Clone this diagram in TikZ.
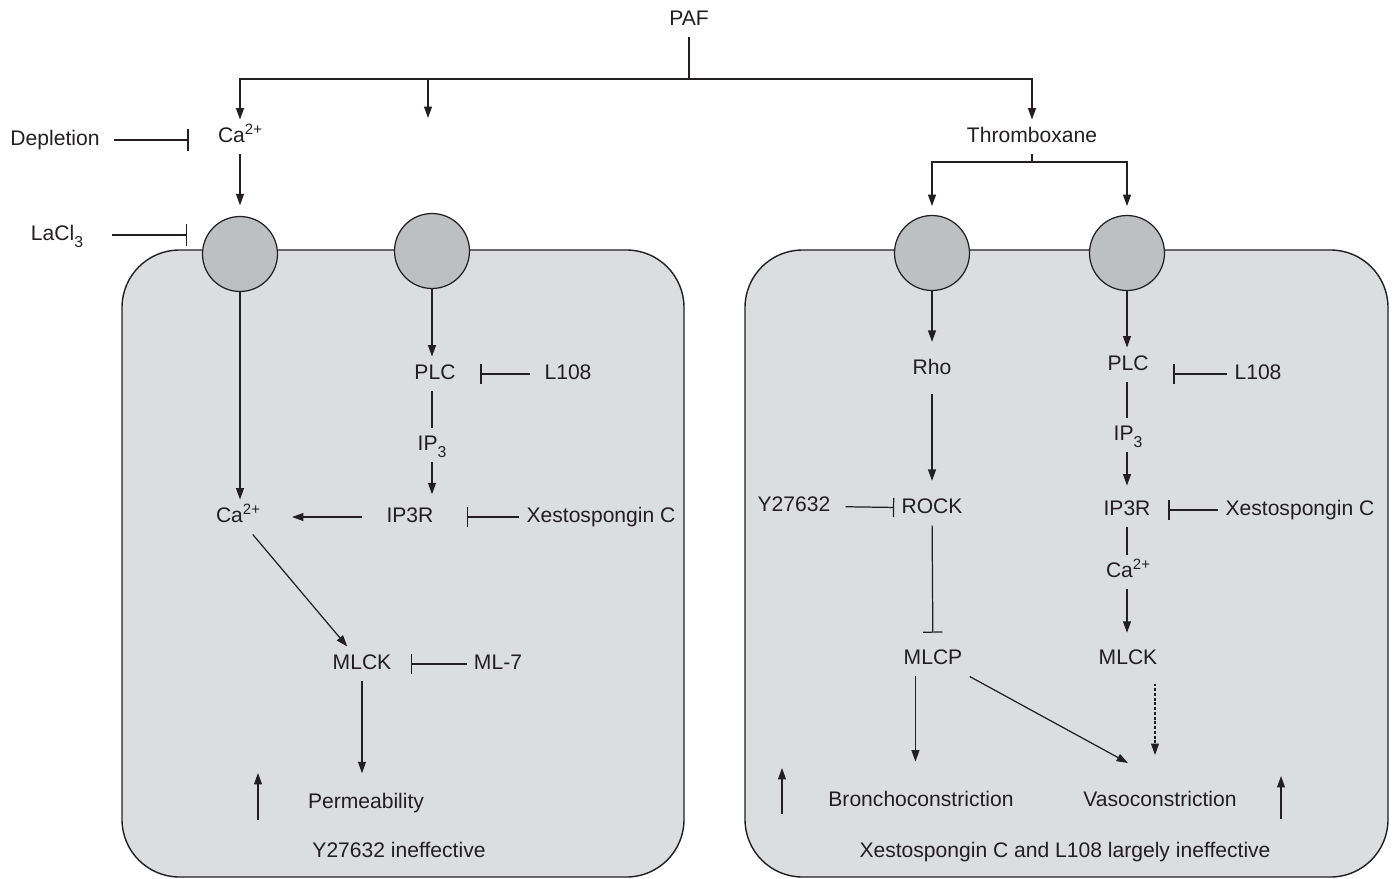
\documentclass[tikz,border=0pt]{standalone}
\usepackage{fontspec}
\setmainfont{Liberation Sans}
\usetikzlibrary{arrows.meta, positioning}
\definecolor{ink}{RGB}{35,31,32}
\definecolor{cellgray}{RGB}{220,221,223}
\definecolor{rcptgray}{RGB}{190,191,193}
\newcommand{\upidx}[1]{\raisebox{4.6pt}{\fontsize{8.5}{9}\selectfont #1}}
\newcommand{\dnidx}[1]{\raisebox{-4pt}{\fontsize{9}{9}\selectfont #1}}

\begin{document}
\begin{tikzpicture}[x=0.02cm, y=-0.02cm,
  lbl/.style={font=\fontsize{12}{14}\selectfont, text=ink, text height=9pt, text depth=2.5pt, inner sep=4pt},
  cell/.style={draw=ink, fill=cellgray, line width=0.8pt, rounded corners=1.15cm},
  rcpt/.style={circle, draw=ink, fill=rcptgray, line width=0.7pt, minimum size=1.5cm, inner sep=0pt},
  link/.style={draw=ink, line width=0.7pt},
  arr/.style={-{Triangle[length=6.5pt, width=4.5pt]}, draw=ink, line width=0.7pt},
  inh/.style={-{Bar[width=11pt]}, draw=ink, line width=0.7pt},
  dotarr/.style={arr, dash pattern=on 1.6pt off 1.1pt},
]
\useasboundingbox (0,0) rectangle (1393,879);

% === Cells ===
\draw[cell] (122,250) rectangle (684,877);
\draw[cell] (745,250) rectangle (1388,877);

% === Top: PAF and its three branches ===
\node[lbl] (paf) at (689,20) {PAF};
\coordinate (split) at (689,79);
\coordinate (mid) at (428,118);
\node[lbl] (ca0) at (240,137) {Ca\upidx{2+}};
\node[lbl] (thrombo) at (1032,137) {Thromboxane};
\draw[link] (paf) -- (split);
\draw[arr] (split) -| (ca0.north);
\draw[arr] (split) -| (mid);
\draw[arr] (split) -| (thrombo.north);

% === Left cell: Ca2+ entry and PLC route ===
\node[rcpt] (c1) at (240,254) {};
\node[rcpt] (c2) at (432,251) {};

\node[lbl] (depl) at (55,140) {Depletion};
\node[lbl] (lacl) at (57,235) {LaCl\dnidx{3}};
\draw[inh, -{Bar[width=13pt]}, shorten <=4pt, shorten >=12.5pt] (depl) -- (depl -| ca0.west);
\draw[inh, -{Bar[width=13pt]}, shorten <=12pt, shorten >=8.5pt] (lacl) -- (lacl -| c1.west);
\draw[arr, shorten >=6pt] (ca0) -- (c1);

\node[lbl] (ca1) at (238,517) {Ca\upidx{2+}};
\draw[arr] (c1) -- (c1 |- ca1.north);

\node[lbl] (plc1) at (435,374) {PLC};
\node[lbl] (l108a) at (568,374) {L108};
\node[lbl] (ip3a) at (432,445) {IP\dnidx{3}};
\node[lbl] (ip3r1) at (410,517) {IP3R};
\node[lbl] (xesto1) at (601,517) {Xestospongin C};
\draw[arr] (c2) -- (c2 |- plc1.north);
\draw[inh, shorten <=4pt, shorten >=10pt] (l108a) -- (plc1);
\draw[link] (c2 |- plc1.south) -- (c2 |- ip3a.north);
\draw[arr, shorten >=3pt] (c2 |- ip3a.south) -- (c2 |- ip3r1.north);
\draw[inh, shorten >=15pt] (xesto1) -- (ip3r1);
\draw[arr, shorten <=9.5pt, shorten >=14pt] (ip3r1) -- (ca1);

\node[lbl] (mlck1) at (362,664) {MLCK};
\node[lbl] (ml7) at (498,664) {ML-7};
\node[lbl] (perm) at (366,803) {Permeability};
\draw[arr] (ca1) -- (mlck1);
\draw[inh, shorten >=7pt] (ml7) -- (mlck1);
\draw[arr, shorten >=7pt] (mlck1) -- (mlck1 |- perm.north);
\draw[arr] (258,820) -- (258,773);

\node[lbl] (ineff1) at (399,852) {Y27632 ineffective};

% === Right cell: Thromboxane receptors ===
\node[rcpt] (c3) at (932,253) {};
\node[rcpt] (c4) at (1127,253) {};
\coordinate (tsplit) at (1032,162);
\draw[link] (thrombo) -- (tsplit);
\draw[arr, shorten >=5pt] (tsplit) -| (c3.north);
\draw[arr, shorten >=5pt] (tsplit) -| (c4.north);

% Rho / ROCK route
\node[lbl] (rho) at (932,369) {Rho};
\node[lbl] (rock) at (932,508) {ROCK};
\node[lbl] (y27) at (794,506) {Y27632};
\node[lbl] (mlcp) at (933,659) {MLCP};
\draw[arr, shorten >=5.5pt] (c3) -- (rho);
\draw[arr, shorten <=4pt, shorten >=5.5pt] (rho) -- (rock);
\draw[inh, shorten <=4.5pt] (y27) -- (rock);
\draw[inh, shorten >=5pt] (rock) -- (mlcp);

% PLC route
\node[lbl] (plc2) at (1128,365) {PLC};
\node[lbl] (l108b) at (1258,374) {L108};
\node[lbl] (ip3b) at (1128,435) {IP\dnidx{3}};
\node[lbl] (ip3r2) at (1127,510) {IP3R};
\node[lbl] (xesto2) at (1300,510) {Xestospongin C};
\node[lbl] (ca2) at (1128,572) {Ca\upidx{2+}};
\node[lbl] (mlck2) at (1128,659) {MLCK};
\draw[arr] (c4) -- (c4 |- plc2.north);
\draw[inh, shorten >=10pt] (l108b) -- (l108b -| plc2.east);
\draw[link] (c4 |- plc2.south) -- (c4 |- ip3b.north);
\draw[arr, shorten >=4pt] (c4 |- ip3b.south) -- (c4 |- ip3r2.north);
\draw[inh, shorten >=6pt] (xesto2) -- (ip3r2);
\draw[link] (c4 |- ip3r2.south) -- (c4 |- ca2.north);
\draw[arr, shorten >=5pt] (c4 |- ca2.south) -- (c4 |- mlck2.north);

% Outcomes
\node[lbl] (broncho) at (921,801) {Bronchoconstriction};
\node[lbl] (vaso) at (1160,801) {Vasoconstriction};
\coordinate (vasotip) at (1128,763);
\coordinate (mlckend) at (1155,755);
\draw[arr, shorten >=12.5pt] ([xshift=-10pt]mlcp.south) -- ([xshift=-10pt]mlcp.south |- broncho.north);
\draw[arr] (mlcp.south east) -- (vasotip);
\draw[dotarr, shorten <=4pt] (mlckend |- mlck2.south) -- (mlckend);
\draw[arr] (782,814) -- (782,768);
\draw[arr] (1281,819) -- (1281,776);

\node[lbl] (ineff2) at (1065,852) {Xestospongin C and L108 largely ineffective};
\end{tikzpicture}
\end{document}
